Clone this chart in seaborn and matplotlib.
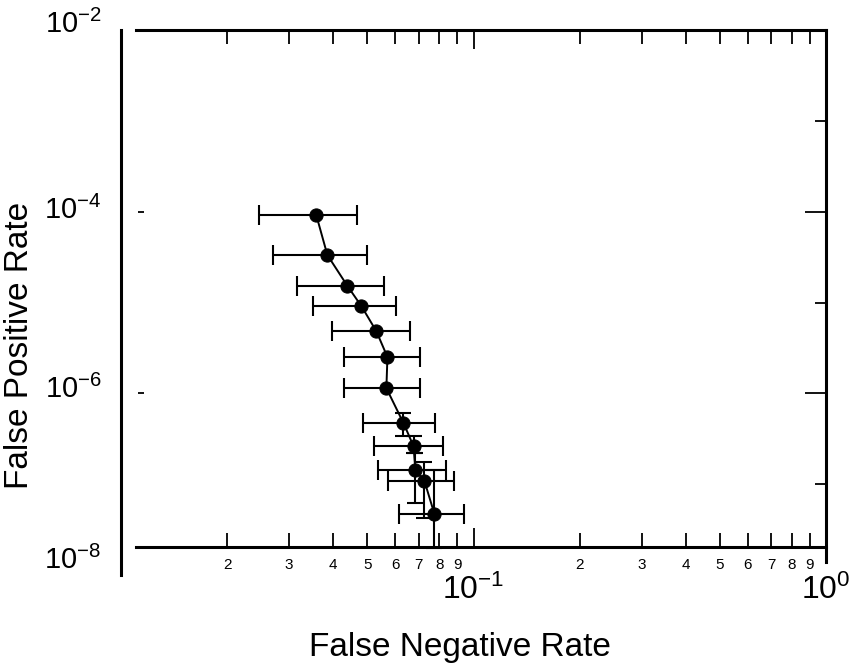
import numpy as np
import pandas as pd
import matplotlib
matplotlib.use("Agg")
import matplotlib.pyplot as plt
import seaborn as sns
from matplotlib import font_manager
from matplotlib.transforms import ScaledTranslation
from matplotlib.ticker import LogLocator, FixedLocator, NullLocator, FuncFormatter, NullFormatter

# Operating points: false negative rate with interval bounds
fnr = [0.0358, 0.0385, 0.0439, 0.0481, 0.0530, 0.0570, 0.0566, 0.0633, 0.0676, 0.0684, 0.0726, 0.0775]
fnr_lo = [0.0247, 0.0270, 0.0316, 0.0351, 0.0398, 0.0430, 0.0430, 0.0487, 0.0523, 0.0537, 0.0573, 0.0616]
fnr_hi = [0.0468, 0.0500, 0.0559, 0.0604, 0.0662, 0.0707, 0.0707, 0.0780, 0.0822, 0.0838, 0.0883, 0.0937]

# False positive rate with interval bounds
fpr = [9.2e-5, 3.33e-5, 1.52e-5, 9.1e-6, 4.84e-6, 2.51e-6, 1.14e-6, 4.70e-7, 2.62e-7, 1.43e-7, 1.08e-7, 4.67e-8]
fpr_lo = [9.2e-5, 3.33e-5, 1.52e-5, 9.1e-6, 4.84e-6, 2.51e-6, 1.14e-6, 3.38e-7, 2.19e-7, 6.18e-8, 4.23e-8, 2.0e-8]
fpr_hi = [9.2e-5, 3.33e-5, 1.52e-5, 9.1e-6, 4.84e-6, 2.51e-6, 1.14e-6, 6.05e-7, 3.38e-7, 2.19e-7, 1.75e-7, 1.43e-7]

x_major = [1e-1, 1e0]
y_major = [1e-8, 1e-6, 1e-4, 1e-2]

sns.set_theme(style="white")
names = {f.name for f in font_manager.fontManager.ttflist}
narrow = "Liberation Sans Narrow" in names
family = "Liberation Sans Narrow" if narrow else "Liberation Sans"
plt.rcParams["font.family"] = [family, "DejaVu Sans"]
plt.rcParams["mathtext.fontset"] = "custom"
plt.rcParams["mathtext.rm"] = family
plt.rcParams["mathtext.it"] = family
plt.rcParams["mathtext.bf"] = family
plt.rcParams["mathtext.default"] = "regular"

big = 26 if narrow else 21
xbig = 27 if narrow else 23
lab = 29 if narrow else 24
small = 13 if narrow else 11

df = pd.DataFrame({"fnr": fnr, "fpr": fpr})

fig = plt.figure(figsize=(8.52, 6.68), dpi=100)
ax = fig.add_axes([121 / 852, 93 / 668, 705 / 852, 545 / 668])
ax.set_xscale("log")
ax.set_yscale("log")

x = np.array(fnr)
y = np.array(fpr)
xerr = [x - np.array(fnr_lo), np.array(fnr_hi) - x]
ax.errorbar(x, y, xerr=xerr, fmt="none", ecolor="black", elinewidth=1.5,
            capsize=7, capthick=1.5, zorder=2)
lo = np.array(fpr_lo)
hi = np.array(fpr_hi)
m = (lo < y) | (hi > y)
ax.errorbar(x[m], y[m], yerr=[y[m] - lo[m], hi[m] - y[m]], fmt="none",
            ecolor="black", elinewidth=1.5, capsize=6, capthick=1.5, zorder=2)

sns.lineplot(data=df, x="fnr", y="fpr", sort=False, estimator=None, color="black",
             linewidth=1.4, marker="o", markersize=9.5, markeredgecolor="black",
             ax=ax, zorder=3)

ax.set_xlim(1e-2, 1e0)
ax.set_ylim(1e-8, 1e-2)

# x axis: decade labels plus digit labels on the minor ticks
ax.xaxis.set_major_locator(FixedLocator(x_major))
ax.xaxis.set_minor_locator(LogLocator(base=10, subs=np.arange(2, 10)))
ax.xaxis.set_minor_formatter(FuncFormatter(
    lambda v, pos: str(int(round(v / 10 ** np.floor(np.log10(v) + 1e-9))))))
ax.tick_params(axis="x", which="major", direction="in", length=14, width=1.3,
               top=True, bottom=True, labelsize=xbig, pad=20, colors="black")
ax.tick_params(axis="x", which="minor", direction="in", length=10, width=1.3,
               top=True, bottom=True, labelsize=small, pad=8, colors="black")

# y axis: labels on the left only
ax.yaxis.set_major_locator(FixedLocator(y_major))
ax.yaxis.set_minor_locator(NullLocator())
ax.tick_params(axis="y", which="major", left=True, right=False, length=0,
               labelsize=big, pad=14, colors="black")

# short marks just inside the left spine
marks = ax.secondary_yaxis(0.028)
marks.spines["left"].set_visible(False)
marks.set_yticks([1e-6, 1e-4])
marks.yaxis.set_minor_locator(NullLocator())
marks.tick_params(axis="y", which="major", direction="inout", length=5, width=1.3,
                  labelleft=False, colors="black")

# inward ticks on the right spine
rticks = ax.secondary_yaxis("right")
rticks.spines["right"].set_visible(False)
rticks.yaxis.set_major_locator(FixedLocator([1e-6, 1e-4]))
rticks.yaxis.set_minor_locator(FixedLocator([1e-7, 1e-5, 1e-3]))
rticks.yaxis.set_major_formatter(NullFormatter())
rticks.yaxis.set_minor_formatter(NullFormatter())
rticks.tick_params(axis="y", which="major", direction="in", length=15, width=1.3,
                   colors="black")
rticks.tick_params(axis="y", which="minor", direction="in", length=8, width=1.3,
                   colors="black")

for side in ["left", "right", "top", "bottom"]:
    ax.spines[side].set_color("black")
    ax.spines[side].set_linewidth(2.2)
ax.spines["bottom"].set_position(("data", 2.04e-8))
ax.spines["bottom"].set_bounds(1.1e-2, 1e0)
ax.spines["top"].set_bounds(1.1e-2, 1e0)
ax.spines["right"].set_bounds(1.4e-8, 1e-2)

ax.set_xlabel("False Negative Rate", fontsize=lab, color="black")
ax.set_ylabel("False Positive Rate", fontsize=lab, color="black")
ax.xaxis.set_label_coords(0.481, -0.105)
ax.yaxis.set_label_coords(-0.122, 0.422)
ax.grid(False)

# lift the decade labels on the y axis slightly above their ticks
fig.canvas.draw()
lift_px = {1e-8: 18, 1e-6: 7, 1e-4: 4, 1e-2: 9}
for tick in ax.yaxis.get_major_ticks():
    loc = tick.get_loc()
    for key, px in lift_px.items():
        if np.isclose(loc, key, rtol=1e-6):
            tick.label1.set_transform(tick.label1.get_transform()
                                      + ScaledTranslation(0, px / 100, fig.dpi_scale_trans))

fig.savefig("out.png", dpi=100, facecolor="white")
